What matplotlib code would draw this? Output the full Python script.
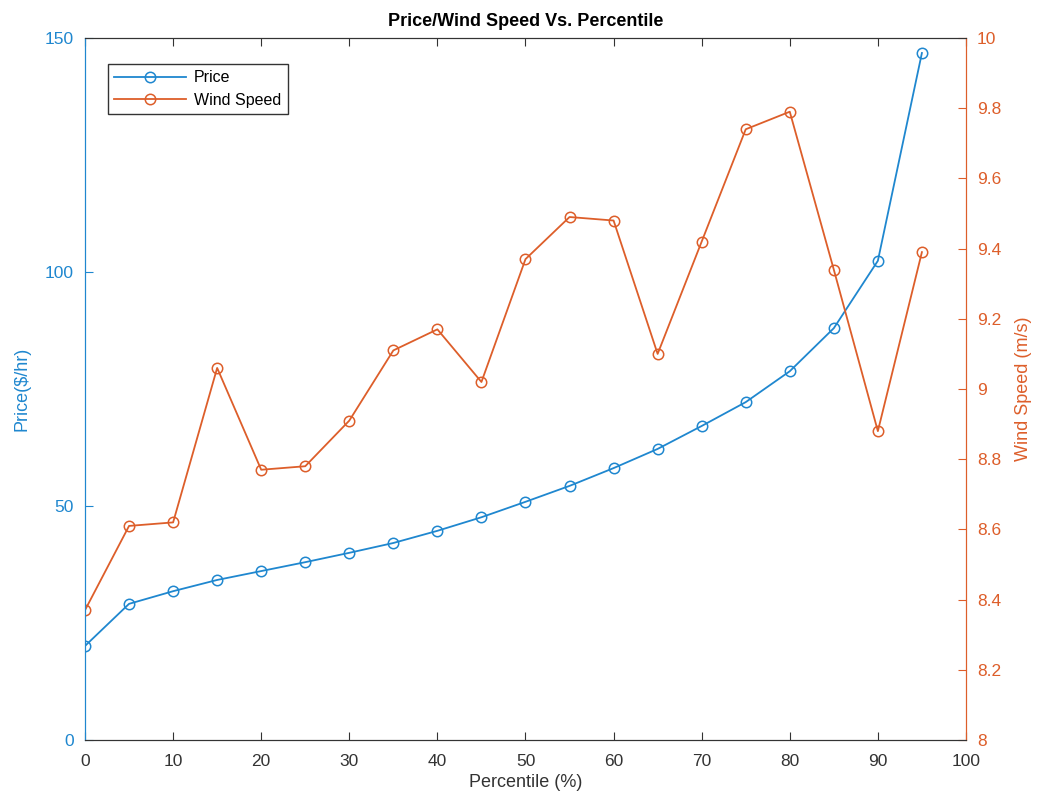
import matplotlib
matplotlib.use("Agg")
import matplotlib.pyplot as plt

percentile = [0, 5, 10, 15, 20, 25, 30, 35, 40, 45, 50, 55, 60, 65, 70, 75, 80, 85, 90, 95]
price = [20.1, 29.1, 31.8, 34.2, 36.1, 38.0, 40.0, 42.1, 44.7, 47.6,
         50.9, 54.3, 58.1, 62.2, 67.1, 72.2, 78.8, 88.0, 102.4, 146.8]
wind_speed = [8.37, 8.61, 8.62, 9.06, 8.77, 8.78, 8.91, 9.11, 9.17, 9.02,
              9.37, 9.49, 9.48, 9.10, 9.42, 9.74, 9.79, 9.34, 8.88, 9.39]

blue = "#1f87cf"
orange = "#dd5e2a"
gray = "#333333"

plt.rcParams["font.family"] = ["Liberation Sans", "DejaVu Sans"]

fig = plt.figure(figsize=(10.47, 8.07), dpi=100)
ax = fig.add_axes([0.0812, 0.083, 0.8414, 0.8699])
ax2 = ax.twinx()

l1, = ax.plot(percentile, price, "-o", color=blue, mfc="none", ms=7.5, lw=1.3, mew=1.1, label="Price")
l2, = ax2.plot(percentile, wind_speed, "-o", color=orange, mfc="none", ms=7.5, lw=1.3, mew=1.1, label="Wind Speed")

ax.set_xlim(0, 100)
ax.set_ylim(0, 150)
ax2.set_ylim(8, 10)
ax.set_xticks(range(0, 101, 10))
ax.set_yticks([0, 50, 100, 150])
ax2.set_yticks([8 + 0.2 * i for i in range(11)])
ax2.set_yticklabels(["8", "8.2", "8.4", "8.6", "8.8", "9", "9.2", "9.4", "9.6", "9.8", "10"])

for a in (ax, ax2):
    a.tick_params(direction="in", length=6, labelsize=12.5, pad=8)
    a.spines["top"].set_color(gray)
    a.spines["bottom"].set_color(gray)
ax.tick_params(axis="x", colors=gray, top=True, pad=10)
ax.tick_params(axis="y", colors=blue)
ax2.tick_params(axis="y", colors=orange)
ax.spines["left"].set_color(blue)
ax2.spines["left"].set_color(blue)
ax.spines["right"].set_color(orange)
ax2.spines["right"].set_color(orange)

ax.set_xlabel("Percentile (%)", fontsize=13, color=gray, labelpad=4)
ax.set_ylabel("Price($/hr)", fontsize=13, color=blue, labelpad=10)
ax2.set_ylabel("Wind Speed (m/s)", fontsize=13, color=orange, labelpad=10)
ax.set_title("Price/Wind Speed Vs. Percentile", fontsize=13, fontweight="bold", pad=9)

leg = ax2.legend([l1, l2], ["Price", "Wind Speed"], loc="upper left",
                 bbox_to_anchor=(0.026, 0.963), borderaxespad=0, fontsize=11.5,
                 fancybox=False, edgecolor=gray, framealpha=1, handlelength=4.5,
                 labelspacing=0.45, borderpad=0.4, handletextpad=0.5)
leg.get_frame().set_linewidth(1.0)

fig.savefig("out.png", dpi=100)
